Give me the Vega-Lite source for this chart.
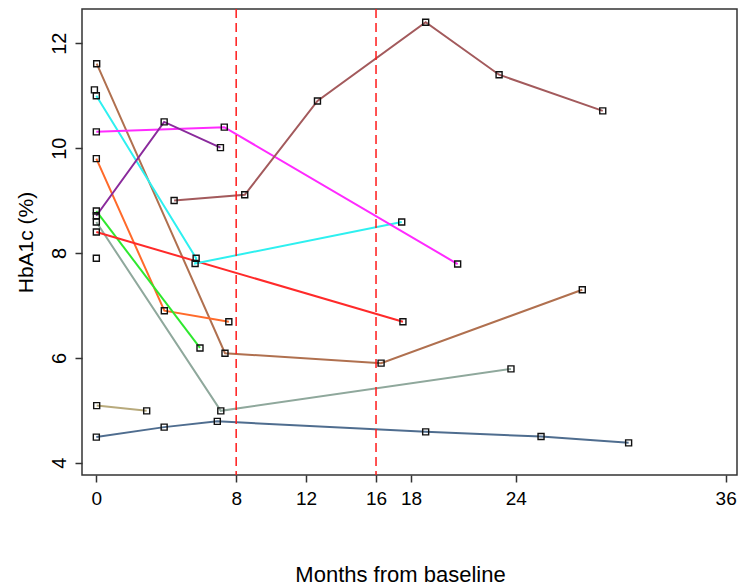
{
  "$schema": "https://vega.github.io/schema/vega-lite/v6.json",
  "width": 655,
  "height": 466,
  "autosize": {"type": "none"},
  "padding": {"left": 82, "top": 9, "right": 1, "bottom": 113},
  "background": "white",
  "config": {
    "view": {"stroke": "#333333", "strokeWidth": 1.5},
    "font": "Liberation Sans"
  },
  "datasets": {
    "obs": [
      {"id": "A", "visit": 1, "month": 0, "hba1c": 4.49},
      {"id": "A", "visit": 2, "month": 3.88, "hba1c": 4.68},
      {"id": "A", "visit": 3, "month": 6.92, "hba1c": 4.79},
      {"id": "A", "visit": 4, "month": 18.84, "hba1c": 4.59},
      {"id": "A", "visit": 5, "month": 25.44, "hba1c": 4.5},
      {"id": "A", "visit": 6, "month": 30.45, "hba1c": 4.38},
      {"id": "B", "visit": 1, "month": 0.02, "hba1c": 5.09},
      {"id": "B", "visit": 2, "month": 2.88, "hba1c": 4.99},
      {"id": "C", "visit": 1, "month": 0, "hba1c": 8.59},
      {"id": "C", "visit": 2, "month": 7.12, "hba1c": 4.99},
      {"id": "C", "visit": 3, "month": 23.72, "hba1c": 5.79},
      {"id": "D", "visit": 1, "month": 0.02, "hba1c": 11.61},
      {"id": "D", "visit": 2, "month": 7.36, "hba1c": 6.09},
      {"id": "D", "visit": 3, "month": 16.29, "hba1c": 5.9},
      {"id": "D", "visit": 4, "month": 27.8, "hba1c": 7.3},
      {"id": "E", "visit": 1, "month": 0, "hba1c": 9.8},
      {"id": "E", "visit": 2, "month": 3.89, "hba1c": 6.9},
      {"id": "E", "visit": 3, "month": 7.58, "hba1c": 6.69},
      {"id": "F", "visit": 1, "month": 0, "hba1c": 8.8},
      {"id": "F", "visit": 2, "month": 5.93, "hba1c": 6.19},
      {"id": "G", "visit": 1, "month": 0, "hba1c": 8.4},
      {"id": "G", "visit": 2, "month": 17.54, "hba1c": 6.69},
      {"id": "H", "visit": 1, "month": 0, "hba1c": 11.0},
      {"id": "H", "visit": 2, "month": 5.71, "hba1c": 7.9},
      {"id": "H", "visit": 3, "month": 5.65, "hba1c": 7.8},
      {"id": "H", "visit": 4, "month": 17.47, "hba1c": 8.59},
      {"id": "I", "visit": 1, "month": 0, "hba1c": 10.31},
      {"id": "I", "visit": 2, "month": 7.32, "hba1c": 10.4},
      {"id": "I", "visit": 3, "month": 20.67, "hba1c": 7.79},
      {"id": "J", "visit": 1, "month": 0, "hba1c": 8.71},
      {"id": "J", "visit": 2, "month": 3.88, "hba1c": 10.5},
      {"id": "J", "visit": 3, "month": 7.1, "hba1c": 10.01},
      {"id": "K", "visit": 1, "month": 4.45, "hba1c": 9.0},
      {"id": "K", "visit": 2, "month": 8.49, "hba1c": 9.11},
      {"id": "K", "visit": 3, "month": 12.65, "hba1c": 10.9},
      {"id": "K", "visit": 4, "month": 18.84, "hba1c": 12.4},
      {"id": "K", "visit": 5, "month": 23.04, "hba1c": 11.4},
      {"id": "K", "visit": 6, "month": 28.97, "hba1c": 10.71},
      {"id": "L", "visit": 1, "month": 0, "hba1c": 7.9},
      {"id": "M", "visit": 1, "month": -0.11, "hba1c": 11.11}
    ],
    "periods": [
      {"cut": 8},
      {"cut": 16}
    ]
  },
  "layer": [
    {
      "data": {"name": "obs"},
      "mark": {"type": "line", "strokeWidth": 2, "clip": true},
      "encoding": {
        "x": {
          "field": "month",
          "type": "quantitative",
          "scale": {"domain": [-0.82, 36.65], "nice": false, "zero": false},
          "axis": {
            "values": [0, 8, 12, 16, 18, 24, 36],
            "grid": false,
            "domain": false,
            "tickColor": "#333333",
            "tickWidth": 1.5,
            "tickSize": 7,
            "labelFont": "Liberation Sans",
            "labelFontSize": 19,
            "labelColor": "#000000",
            "labelPadding": 7,
            "labelFlush": false,
            "title": "Months from baseline",
            "titleFont": "Liberation Sans",
            "titleFontSize": 22,
            "titleFontWeight": "normal",
            "titleColor": "#000000",
            "titleX": 318,
            "titleY": 106,
            "titleAlign": "center",
            "titleBaseline": "alphabetic"
          }
        },
        "y": {
          "field": "hba1c",
          "type": "quantitative",
          "scale": {"domain": [3.767, 12.653], "nice": false, "zero": false},
          "axis": {
            "values": [4, 6, 8, 10, 12],
            "grid": false,
            "domain": false,
            "tickColor": "#333333",
            "tickWidth": 1.5,
            "tickSize": 7,
            "labelFont": "Liberation Sans",
            "labelFontSize": 20,
            "labelColor": "#000000",
            "labelAngle": 270,
            "labelAlign": "center",
            "labelBaseline": "alphabetic",
            "labelPadding": 10,
            "labelFlush": false,
            "title": "HbA1c (%)",
            "titleFont": "Liberation Sans",
            "titleFontSize": 21,
            "titleFontWeight": "normal",
            "titleColor": "#000000",
            "titleAngle": 270,
            "titleX": -50,
            "titleY": 233,
            "titleAlign": "center",
            "titleBaseline": "alphabetic"
          }
        },
        "detail": {"field": "id"},
        "order": {"field": "visit", "type": "quantitative"},
        "color": {
          "field": "id",
          "type": "nominal",
          "legend": null,
          "scale": {
            "domain": ["A", "B", "C", "D", "E", "F", "G", "H", "I", "J", "K", "L", "M"],
            "range": ["#4f6d8f", "#b8aa7c", "#8fa89c", "#b0704f", "#ff6a2a", "#2ee82e", "#ff2a2a", "#2ef0f0", "#ff2aff", "#8a2a9c", "#a35a5c", "#ffffff", "#2ef0f0"]
          }
        }
      }
    },
    {
      "data": {"name": "obs"},
      "mark": {"type": "point", "shape": "square", "filled": false, "stroke": "#111111", "strokeWidth": 1.4, "size": 36, "opacity": 1},
      "encoding": {
        "x": {"field": "month", "type": "quantitative"},
        "y": {"field": "hba1c", "type": "quantitative"}
      }
    },
    {
      "data": {"name": "periods"},
      "mark": {"type": "rule", "color": "#ff1a1a", "strokeWidth": 1.5, "strokeDash": [9, 5]},
      "encoding": {
        "x": {"field": "cut", "type": "quantitative"}
      }
    }
  ]
}
